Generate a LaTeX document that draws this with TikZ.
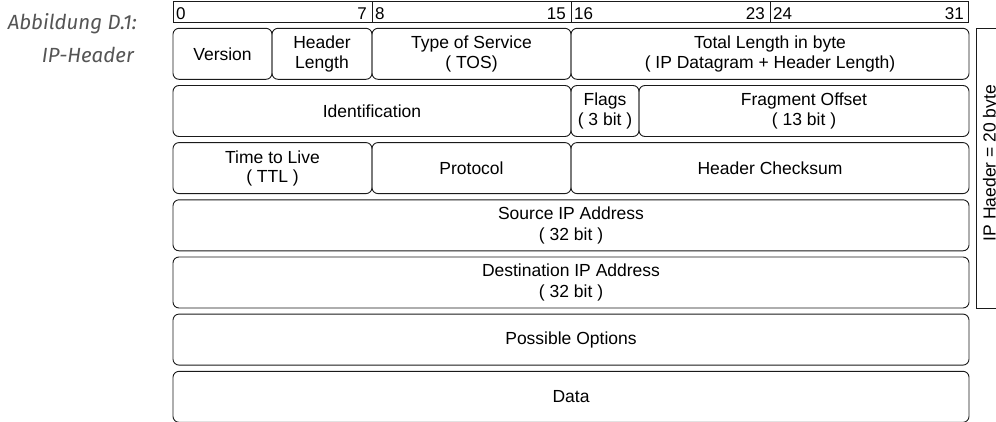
\documentclass[tikz,border=0pt]{standalone}
\usepackage{fontspec}
\setmainfont{Liberation Sans}
\newfontfamily\captionfont{Fira Sans}
\definecolor{captiongray}{HTML}{555555}
\definecolor{linegray}{HTML}{1A1A1A}
\begin{document}
\begin{tikzpicture}[x=1pt, y=-1pt,
  field/.style={draw=linegray, line width=0.9pt, rounded corners=6pt,
    anchor=north west, minimum height=51pt, inner sep=0pt, outer sep=0pt,
    align=center, font=\fontsize{17.5}{20.5}\selectfont},
  bytecell/.style={draw=linegray, line width=0.9pt, anchor=north west,
    minimum width=199pt, minimum height=20.5pt, inner sep=0pt, outer sep=0pt},
  bitno/.style={font=\fontsize{17}{17}\selectfont, inner sep=0pt},
  captiontext/.style={font=\captionfont\itshape\fontsize{20.5}{20.5}\selectfont,
    text=captiongray, inner sep=0pt, anchor=base east},
  bracket/.style={draw=linegray, line width=0.9pt}
]
\useasboundingbox (0,0) rectangle (996,421);

% caption
\node[captiontext] (cap1) at (137,29.5) {Abbildung D.1:};
\node[captiontext] (cap2) at (134,62.5) {IP-Header};

% bit ruler
\node[bytecell] (b0) at (173,1.5) {};
\node[bytecell] (b1) at (372,1.5) {};
\node[bytecell] (b2) at (571,1.5) {};
\node[bytecell, minimum width=198.3pt] (b3) at (770,1.5) {};
\node[bitno, anchor=base west] (n0)  at (176,19) {0};
\node[bitno, anchor=base east] (n7)  at (367,19) {7};
\node[bitno, anchor=base west] (n8)  at (375,19) {8};
\node[bitno, anchor=base east] (n15) at (566,19) {15};
\node[bitno, anchor=base west] (n16) at (574,19) {16};
\node[bitno, anchor=base east] (n23) at (765,19) {23};
\node[bitno, anchor=base west] (n24) at (773,19) {24};
\node[bitno, anchor=base east] (n31) at (964,19) {31};

% row 1
\node[field, minimum width=99pt]  (version) at (173,28.3) {Version};
\node[field, minimum width=100pt] (hlen)    at (272,28.3) {Header\\Length};
\node[field, minimum width=199pt] (tos)     at (372,28.3) {Type of Service\\( TOS)};
\node[field, minimum width=398pt] (tlen)    at (571,28.3) {Total Length in byte\\( IP Datagram + Header Length)};

% row 2
\node[field, minimum width=398pt] (ident)   at (173,85.5) {Identification};
\node[field, minimum width=68pt]  (flags)   at (571,85.5) {Flags\\( 3 bit )};
\node[field, minimum width=330pt] (fragoff) at (639,85.5) {Fragment Offset\\( 13 bit )};

% row 3
\node[field, minimum width=199pt] (ttl)     at (173,142.6) {Time to Live\\[-1.5pt]( TTL )};
\node[field, minimum width=199pt] (proto)   at (372,142.6) {Protocol};
\node[field, minimum width=398pt] (chksum)  at (571,142.6) {Header Checksum};

% rows 4 to 7
\node[field, minimum width=796pt] (srcip)   at (173,199.8) {Source IP Address\\( 32 bit )};
\node[field, minimum width=796pt] (dstip)   at (173,257)   {Destination IP Address\\( 32 bit )};
\node[field, minimum width=796pt] (options) at (173,314.1) {Possible Options};
\node[field, minimum width=796pt] (data)    at (173,371.3) {Data};

% header size bracket
\coordinate (brtop) at (996,28.3);
\coordinate (brbot) at (996,308.3);
\draw[bracket] (brtop) -- (976,28.3) -- (976,308.3) -- (brbot);
\node[rotate=90, anchor=base, inner sep=0pt, font=\fontsize{17.5}{17.5}\selectfont]
  (hdrsize) at (995.5,163) {IP Haeder = 20 byte};
\end{tikzpicture}
\end{document}
